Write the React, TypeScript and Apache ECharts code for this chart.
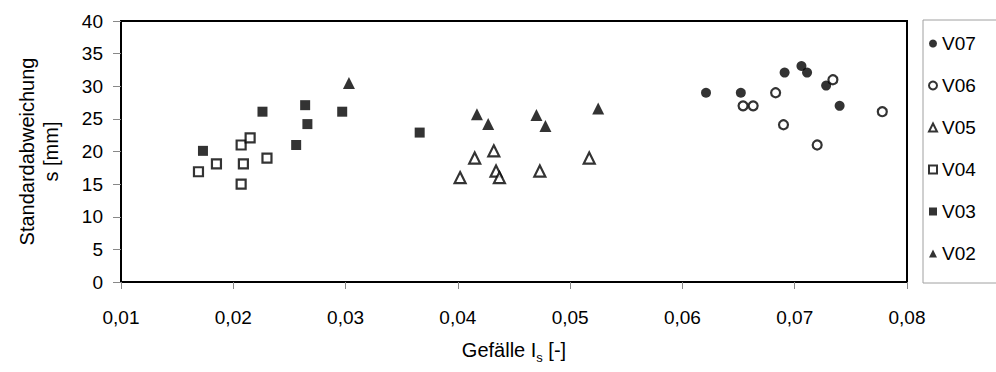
import React, { useEffect, useRef } from "react";
import * as echarts from "echarts";

// Gefälle I_s [-] (x) and Standardabweichung s [mm] (y) for each test series
const v07: [number, number][] = [
  [0.0621, 29.0], [0.0652, 29.0], [0.0691, 32.1], [0.0706, 33.1],
  [0.0711, 32.1], [0.0728, 30.1], [0.074, 27.0],
];
const v06: [number, number][] = [
  [0.0654, 27.0], [0.0663, 27.0], [0.0683, 29.0], [0.069, 24.1],
  [0.072, 21.0], [0.0734, 31.0], [0.0778, 26.1],
];
const v05: [number, number][] = [
  [0.0402, 16.0], [0.0415, 19.0], [0.0432, 20.1], [0.0434, 17.0],
  [0.0437, 16.0], [0.0473, 17.0], [0.0517, 19.0],
];
const v04: [number, number][] = [
  [0.0169, 16.9], [0.0185, 18.1], [0.0207, 21.0], [0.0215, 22.1],
  [0.0209, 18.1], [0.0207, 15.0], [0.023, 19.0],
];
const v03: [number, number][] = [
  [0.0173, 20.1], [0.0226, 26.1], [0.0256, 21.0], [0.0264, 27.1],
  [0.0266, 24.2], [0.0297, 26.1], [0.0366, 22.9],
];
const v02: [number, number][] = [
  [0.0303, 30.5], [0.0417, 25.7], [0.0427, 24.2], [0.047, 25.6],
  [0.0478, 23.9], [0.0525, 26.6],
];

const seriesNames = ["V07", "V06", "V05", "V04", "V03", "V02"];

const FONT = "'Liberation Sans', Arial, sans-serif";

export default function App() {
  const ref = useRef<HTMLDivElement>(null);

  useEffect(() => {
    if (!ref.current) return;
    const chart = echarts.init(ref.current, null, { renderer: "svg" });

    const filled = { color: "#000", borderColor: "#000", borderWidth: 0 };
    const open = { color: "#fff", borderColor: "#000", borderWidth: 2.2 };

    const mk = (name: string, data: [number, number][], symbol: string, size: number, style: any) => ({
      name,
      type: "scatter",
      data,
      symbol,
      symbolSize: size,
      itemStyle: style,
      emphasis: { disabled: true },
    });

    chart.setOption({
      animation: false,
      textStyle: { fontFamily: FONT },
      grid: {
        left: 121,
        right: 89,
        top: 21,
        bottom: 90,
        show: true,
        borderColor: "#000",
        borderWidth: 2,
        backgroundColor: "#fff",
      },
      legend: {
        data: seriesNames,
        orient: "vertical",
        left: 923,
        top: 20,
        padding: [14, 40, 20, 5],
        itemWidth: 8,
        itemHeight: 8,
        itemGap: 23,
        borderColor: "#a0a0a0",
        borderWidth: 1,
        backgroundColor: "#fff",
        textStyle: { fontSize: 19, lineHeight: 18, color: "#000", fontFamily: FONT },
      },
      xAxis: {
        type: "value",
        min: 0.01,
        max: 0.08,
        interval: 0.01,
        name: "{a|Gefälle I}{s|s}{a| [-]}",
        nameLocation: "middle",
        nameGap: 58,
        nameTextStyle: {
          fontSize: 20,
          color: "#000",
          fontFamily: FONT,
          rich: {
            a: { fontSize: 20, lineHeight: 24, verticalAlign: "top", fontFamily: FONT, color: "#000" },
            s: { fontSize: 13, lineHeight: 13, verticalAlign: "bottom", padding: [14, 0, 0, 0], fontFamily: FONT, color: "#000" },
          },
        },
        axisLine: { show: true, onZero: false, lineStyle: { color: "#000", width: 2 } },
        axisTick: { show: true, inside: false, length: 7, lineStyle: { color: "#888", width: 1 } },
        axisLabel: {
          margin: 26,
          fontSize: 19,
          color: "#000",
          fontFamily: FONT,
          formatter: (v: number) => v.toFixed(2).replace(".", ","),
        },
        splitLine: { show: false },
      },
      yAxis: {
        type: "value",
        min: 0,
        max: 40,
        interval: 5,
        name: "Standardabweichung\ns [mm]",
        nameLocation: "middle",
        nameGap: 58,
        nameRotate: 90,
        nameTextStyle: { fontSize: 20, lineHeight: 24, color: "#000", fontFamily: FONT, align: "center" },
        axisLine: { show: true, onZero: false, lineStyle: { color: "#000", width: 2 } },
        axisTick: { show: true, inside: false, length: 8, lineStyle: { color: "#888", width: 1 } },
        axisLabel: { margin: 18, fontSize: 19, color: "#000", fontFamily: FONT },
        splitLine: { show: false },
      },
      series: [
        mk("V07", v07, "circle", 10, filled),
        mk("V06", v06, "circle", 9, open),
        mk("V05", v05, "triangle", 11, open),
        mk("V04", v04, "rect", 9, open),
        mk("V03", v03, "rect", 10, filled),
        mk("V02", v02, "triangle", 12, filled),
      ],
    });

    return () => chart.dispose();
  }, []);

  return (
    <div
      ref={ref}
      style={{ position: "fixed", left: 0, top: 0, width: 996, height: 372, background: "#fff" }}
    />
  );
}
